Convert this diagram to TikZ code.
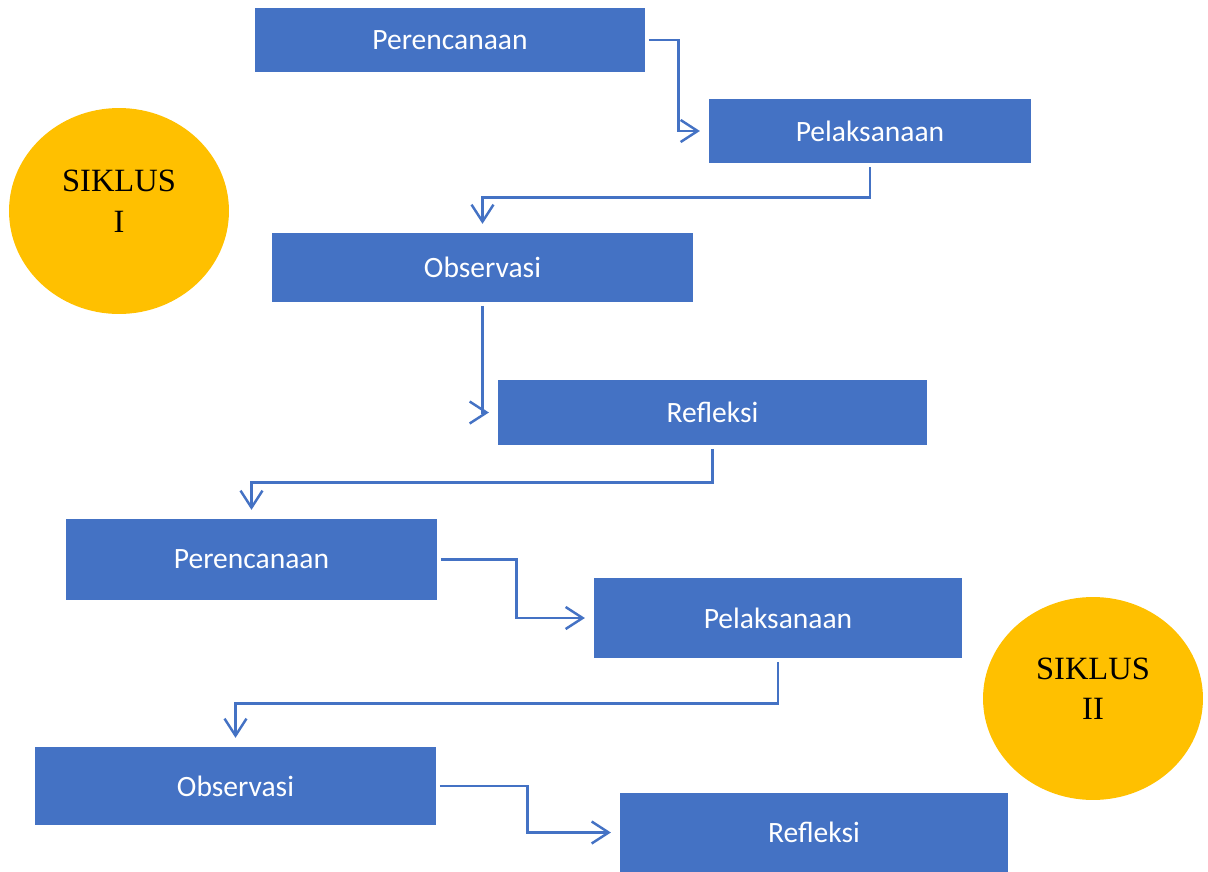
\documentclass[tikz,border=0pt]{standalone}
\usepackage{fontspec}
\setmainfont{Carlito}
\newfontfamily\timesfont{Liberation Serif}
\usetikzlibrary{arrows.meta,calc,shapes.geometric}
\definecolor{boxblue}{HTML}{4472C4}
\definecolor{siklusgold}{HTML}{FFC000}
\tikzset{
  stage/.style={fill=boxblue,text=white,font=\fontsize{16.8}{19}\selectfont,inner sep=0pt},
  siklus/.style={ellipse,fill=siklusgold,font=\timesfont\fontsize{18.5}{23}\selectfont,align=center,inner sep=0pt},
  flow/.style={draw=boxblue,line width=1.4pt,shorten <=2pt,shorten >=5pt,
    -{Straight Barb[length=0.34cm,width=0.44cm,line width=1.4pt]}}
}
\begin{document}
\begin{tikzpicture}[x=0.02cm,y=-0.02cm]
\useasboundingbox (0,0) rectangle (1208,872);
\foreach \n/\x/\y/\w/\h/\t in {1/450/40/7.8/1.28/Perencanaan,2/870/131/6.44/1.28/Pelaksanaan,
  3/482.5/267.5/8.42/1.38/Observasi,4/712.5/412.5/8.58/1.3/Refleksi,
  5/251.5/559.5/7.42/1.62/Perencanaan,6/778/618/7.36/1.6/Pelaksanaan,
  7/235.5/786/8.02/1.56/Observasi,8/814/832.5/7.76/1.58/Refleksi}{
  \node[stage,minimum width=\w cm,minimum height=\h cm] (p\n) at (\x,\y) {\t};
}
\node[siklus,minimum width=4.4cm,minimum height=4.12cm] (s1) at (119,211) {SIKLUS\\I\\[-12pt]};
\node[siklus,minimum width=4.4cm,minimum height=4.06cm] (s2) at (1093,698.5) {SIKLUS\\II\\[-12pt]};
% arrows between stages
\draw[flow] (p1.east) -- ++(33,0) |- (p2.west);
\draw[flow] (p2.south) -- ++(0,34) -| (p3.north);
\draw[flow] (p3.south) |- (p4.west);
\draw[flow] (p4.south) -- ++(0,37) -| (p5.north);
\draw[flow] (p5.east) -- ++(79,0) |- (p6.west);
\draw[flow] (p6.south) -- ++(0,45) -| (p7.north);
\draw[flow] (p7.east) -- ++(91,0) |- (p8.west);
\end{tikzpicture}
\end{document}
